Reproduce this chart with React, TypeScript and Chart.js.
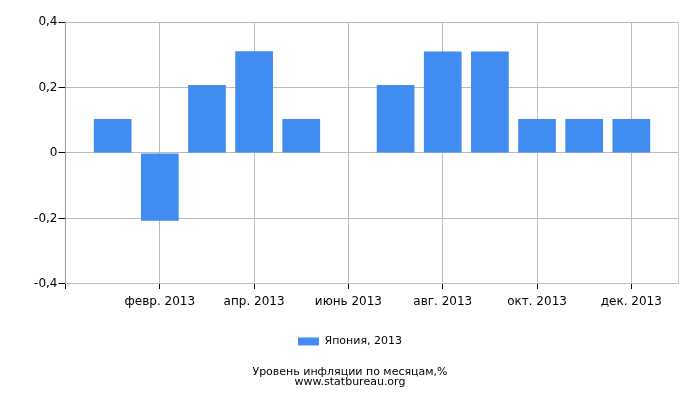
import React, { useEffect, useRef } from "react";
import { Chart, registerables } from "chart.js";

Chart.register(...registerables);

const monthLabels = [
  "янв. 2013", "февр. 2013", "март 2013", "апр. 2013", "май 2013", "июнь 2013",
  "июль 2013", "авг. 2013", "сент. 2013", "окт. 2013", "нояб. 2013", "дек. 2013",
];
const seriesValues = [0.104, -0.207, 0.208, 0.311, 0.104, 0, 0.208, 0.31, 0.31, 0.104, 0.104, 0.104];
const labelledTicks = [-1, 1, 3, 5, 7, 9, 11];
const yTicks = [-0.4, -0.2, 0, 0.2, 0.4];
const seriesName = "Япония, 2013";
const titleLines = ["Уровень инфляции по месяцам,%", "www.statbureau.org"];

export default function App() {
  const ref = useRef<HTMLCanvasElement | null>(null);
  useEffect(() => {
    document.body.style.margin = "0";
    const font = "'DejaVu Sans', sans-serif";
    const chart = new Chart(ref.current!, {
      type: "bar",
      data: {
        datasets: [
          {
            label: seriesName,
            data: seriesValues.map((v, i) => ({ x: i, y: v })),
            backgroundColor: "#418cf0",
            borderWidth: 0,
            categoryPercentage: 1,
            barPercentage: 0.8,
          },
        ],
      },
      options: {
        animation: false,
        responsive: false,
        maintainAspectRatio: false,
        layout: { padding: { left: 0, right: 0, top: 22, bottom: 3 } },
        scales: {
          x: {
            type: "linear",
            offset: false,
            min: -1,
            max: 12,
            afterBuildTicks: (scale: any) => {
              scale.ticks = labelledTicks.map((v) => ({ value: v }));
            },
            afterFit: (scale: any) => {
              scale.height = 42;
            },
            ticks: {
              autoSkip: false,
              maxRotation: 0,
              padding: 6,
              color: "#000",
              font: { family: font, size: 12 },
              callback: (value: any) => monthLabels[value as number] ?? "",
            },
            grid: { offset: false, color: "#bbbbbb", tickColor: "#000", tickLength: 5 },
            border: { color: "#bbbbbb" },
          },
          y: {
            min: -0.4,
            max: 0.4,
            afterBuildTicks: (scale: any) => {
              scale.ticks = yTicks.map((v) => ({ value: v }));
            },
            afterFit: (scale: any) => {
              scale.width = 65.5;
            },
            ticks: {
              padding: 1,
              color: "#000",
              font: { family: font, size: 12 },
              callback: (value: any) => {
                const v = Math.round((value as number) * 10) / 10;
                return v === 0 ? "0" : String(v).replace(".", ",");
              },
            },
            grid: { color: "#bbbbbb", tickColor: "#000", tickLength: 7 },
            border: { color: "#999999" },
          },
          yRight: {
            position: "right",
            min: -0.4,
            max: 0.4,
            afterFit: (scale: any) => {
              scale.width = 21.5;
            },
            ticks: { display: false },
            grid: { drawOnChartArea: false, drawTicks: false },
            border: { color: "#cccccc" },
          },
        },
        plugins: {
          legend: {
            position: "bottom",
            labels: {
              boxWidth: 21,
              boxHeight: 8,
              color: "#000",
              font: { family: font, size: 11 },
            },
          },
          title: {
            display: true,
            position: "bottom",
            text: titleLines,
            color: "#000",
            font: { family: font, size: 11, weight: "normal", lineHeight: 0.91 },
            padding: { top: 10, bottom: 10 },
          },
          tooltip: { enabled: false },
        },
      },
    });
    return () => chart.destroy();
  }, []);
  return (
    <div style={{ width: 700, height: 400 }}>
      <canvas ref={ref} width={700} height={400} style={{ width: 700, height: 400 }} />
    </div>
  );
}
